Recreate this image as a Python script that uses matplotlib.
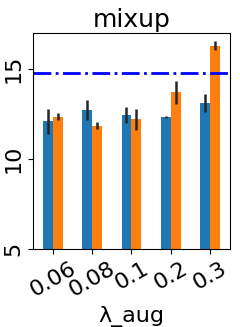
import numpy as np
import matplotlib
matplotlib.use("Agg")
import matplotlib.pyplot as plt

# values
lambdas = ["0.06", "0.08", "0.1", "0.2", "0.3"]
blue_mean = [12.1, 12.7, 12.45, 12.35, 13.1]
blue_err = [0.7, 0.55, 0.45, 0.05, 0.5]
orange_mean = [12.35, 11.85, 12.2, 13.7, 16.3]
orange_err = [0.2, 0.2, 0.6, 0.65, 0.25]
baseline = 14.78

plt.rcParams["font.size"] = 16

fig = plt.figure(figsize=(2.4, 3.27), dpi=100)
ax = fig.add_axes([0.1375, 0.239, 0.82, 0.66])

x = np.arange(len(lambdas))
w = 0.25
ax.bar(x - w / 2, blue_mean, w, yerr=blue_err, color="tab:blue", ecolor="#262626",
       error_kw=dict(elinewidth=1.8))
ax.bar(x + w / 2, orange_mean, w, yerr=orange_err, color="tab:orange", ecolor="#262626",
       error_kw=dict(elinewidth=1.8))
ax.axhline(baseline, color="blue", linestyle="-.", linewidth=2)

ax.set_xlim(-0.5, 4.5)
ax.set_ylim(5, 17)
ax.set_yticks([5, 10, 15])
ax.set_xticks(x)
ax.set_xticklabels(lambdas, rotation=30)
for t in ax.get_yticklabels():
    t.set_rotation(90)
    t.set_va("center")
ax.set_xlabel("λ_aug")
ax.set_title("mixup", fontsize=18, pad=4.5)

fig.savefig("out.png", dpi=100)
